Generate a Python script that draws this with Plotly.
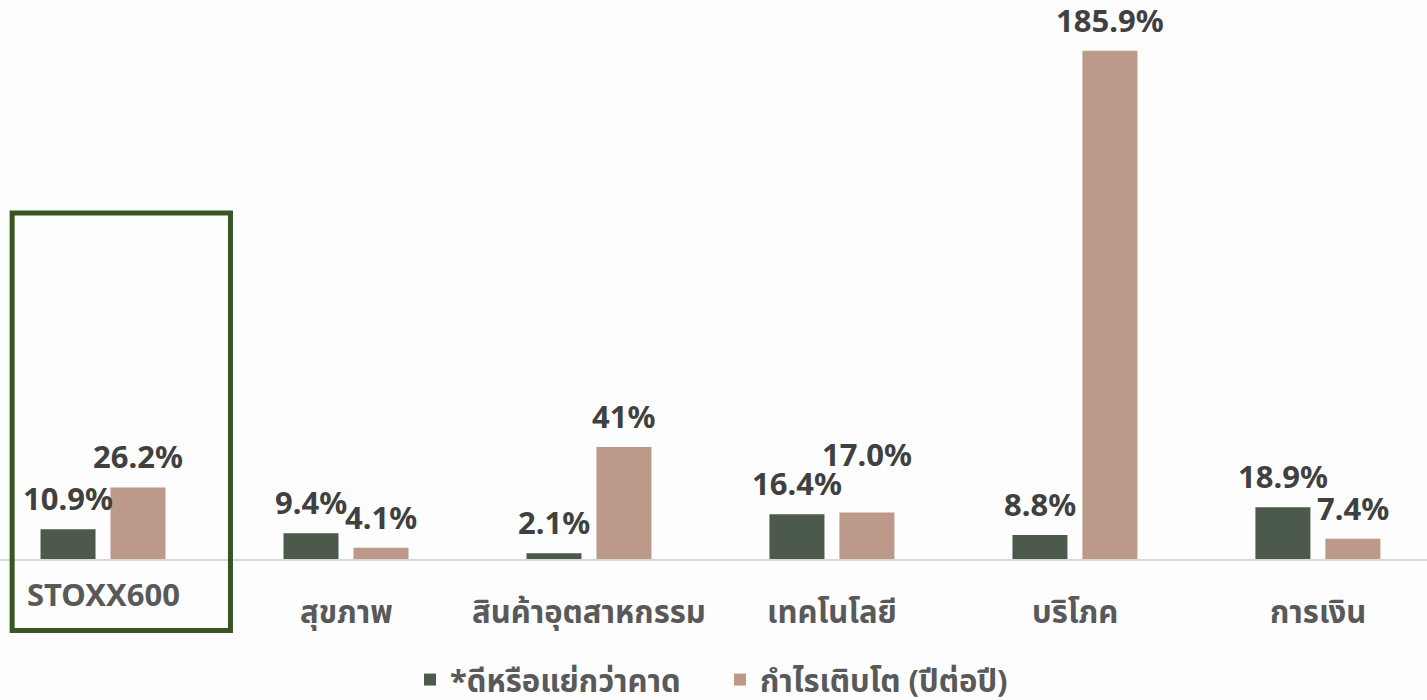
import plotly.graph_objects as go

categories = ["STOXX600", "สุขภาพ", "สินค้าอุตสาหกรรม", "เทคโนโลยี", "บริโภค", "การเงิน"]
surprise = [10.9, 9.4, 2.1, 16.4, 8.8, 18.9]
growth = [26.2, 4.1, 41, 17.0, 185.9, 7.4]
surprise_labels = ["10.9%", "9.4%", "2.1%", "16.4%", "8.8%", "18.9%"]
growth_labels = ["26.2%", "4.1%", "41%", "17.0%", "185.9%", "7.4%"]
series_names = ["*ดีหรือแย่กว่าคาด", "กำไรเติบโต (ปีต่อปี)"]

C_DARK = "#4b5a4b"
C_TAN = "#bd998a"
TXT = "#404040"
TICK = "#595959"
FONT = "Noto Sans, Noto Sans Thai, Tahoma, sans-serif"

fig = go.Figure()
fig.add_trace(go.Bar(x=categories, y=surprise, name=series_names[0], marker_color=C_DARK,
                     marker_line_width=0))
fig.add_trace(go.Bar(x=categories, y=growth, name=series_names[1], marker_color=C_TAN,
                     marker_line_width=0))

annotations = []
for i, cat in enumerate(categories):
    annotations.append(dict(x=cat, y=surprise[i], xref="x", yref="y", text=surprise_labels[i],
                            showarrow=False, xshift=-35, yshift=8, yanchor="bottom",
                            font=dict(size=31, color=TXT, family=FONT, weight="bold")))
    # the tech-sector growth label is lifted so it clears its neighbour
    extra = 28 if i == 3 else 0
    annotations.append(dict(x=cat, y=growth[i], xref="x", yref="y", text=growth_labels[i],
                            showarrow=False, xshift=35, yshift=8 + extra, yanchor="bottom",
                            font=dict(size=31, color=TXT, family=FONT, weight="bold")))
# category labels (first one sits higher, inside the highlight box)
for i, cat in enumerate(categories):
    annotations.append(dict(x=cat, y=(-0.063 if i == 0 else -0.093), xref="x", yref="paper",
                            text=cat, showarrow=False, yanchor="middle",
                            font=dict(size=31, color=TICK, family=FONT, weight="bold")))

fig.update_layout(
    width=1427, height=700,
    margin=dict(l=0, r=0, t=0, b=141, autoexpand=False),
    paper_bgcolor="#fdfdfd", plot_bgcolor="#fdfdfd",
    barmode="group", bargap=0.424, bargroupgap=0.214,
    showlegend=True,
    legend=dict(orientation="h", x=0.2873, xanchor="left", y=-0.168, yanchor="top",
                font=dict(size=31, color=TICK, family=FONT, weight="bold"),
                entrywidth=265, entrywidthmode="pixels",
                itemsizing="constant", traceorder="normal", itemwidth=30,
                bgcolor="rgba(0,0,0,0)"),
    annotations=annotations,
    shapes=[dict(type="rect", xref="paper", yref="paper", x0=0.0085, x1=0.1615,
                 y0=-0.128, y1=0.619, line=dict(color="#375623", width=5),
                 fillcolor="rgba(0,0,0,0)")],
    xaxis=dict(range=[-0.424, 5.449], showticklabels=False, showgrid=False,
               showline=True, linecolor="#d9d9d9", linewidth=2, ticks=""),
    yaxis=dict(range=[0, 204.5], visible=False, showgrid=False, zeroline=False),
)

fig.write_html("out.html", config={"displayModeBar": False},
               post_script="document.body.style.margin='0';")
